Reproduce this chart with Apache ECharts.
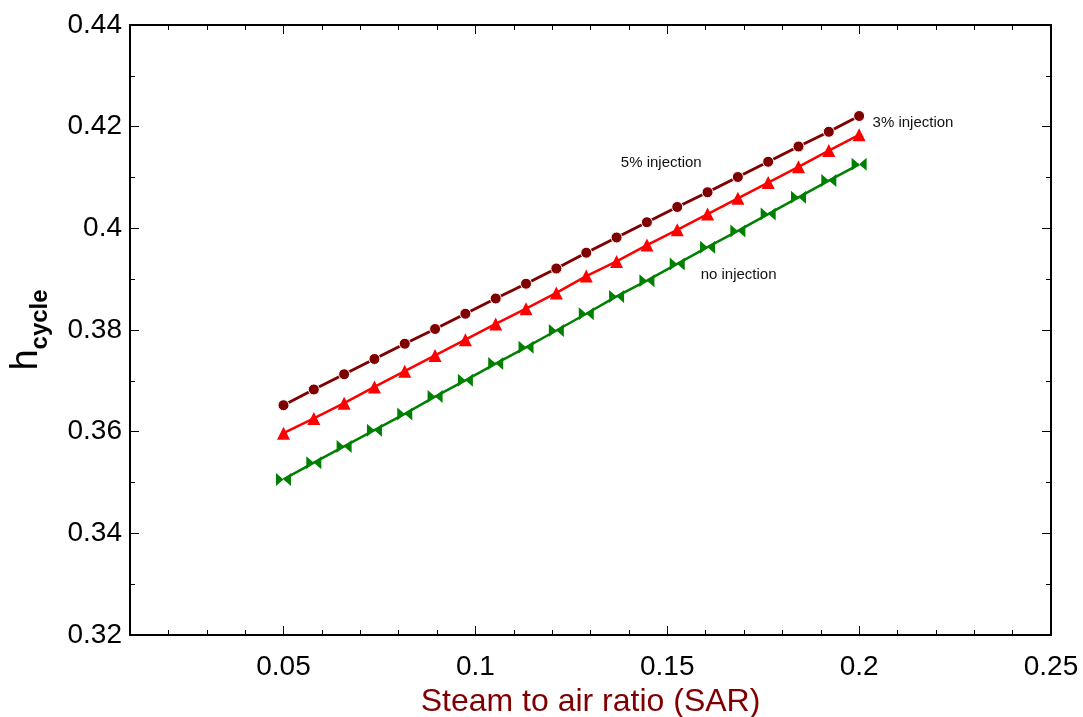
<!DOCTYPE html>
<html lang="en">
<head>
    <meta charset="UTF-8">
    <title>chart</title>
</head>
<body style="margin:0">
<div id="container" style="width:1083px;height:717px"></div>
</body>
<script type="text/javascript" src="https://cdn.jsdelivr.net/npm/echarts@6/dist/echarts.min.js"></script>
<script type="text/javascript">
    // SAR values (20 points between 0.05 and 0.2)
    var sar = [0.05, 0.0579, 0.0658, 0.0737, 0.0816, 0.0895, 0.0974, 0.1053, 0.1132, 0.1211,
        0.1289, 0.1368, 0.1447, 0.1526, 0.1605, 0.1684, 0.1763, 0.1842, 0.1921, 0.2];
    var inj3 = [0.3652, 0.3683, 0.3713, 0.3743, 0.3773, 0.3802, 0.3832, 0.3862, 0.3891, 0.3921,
        0.3952, 0.3982, 0.4012, 0.4042, 0.4071, 0.4101, 0.4131, 0.4161, 0.4190, 0.4221];
    var inj5 = [0.3597, 0.3626, 0.3656, 0.3688, 0.3719, 0.3750, 0.3781, 0.3812, 0.3842, 0.3873,
        0.3906, 0.3935, 0.3967, 0.3997, 0.4028, 0.4059, 0.4090, 0.4121, 0.4153, 0.4184];
    var noInj = [0.3506, 0.3539, 0.3571, 0.3603, 0.3635, 0.3669, 0.3701, 0.3734, 0.3766, 0.3799,
        0.3832, 0.3866, 0.3897, 0.3930, 0.3963, 0.3995, 0.4028, 0.4061, 0.4094, 0.4126];
    var xMajor = [0.05, 0.1, 0.15, 0.2];
    // annotation text and anchor (data coords)
    var notes = [
        {text: '3% injection', x: 0.2035, y: 0.4208},
        {text: '5% injection', x: 0.1379, y: 0.4129},
        {text: 'no injection', x: 0.1587, y: 0.3909}
    ];

    var font = '"Liberation Sans", Arial, sans-serif';
    var black = '#000';
    var maroon = '#800000';
    var red = '#ff0000';
    var green = '#008000';
    var bowtie = 'path://M0,0L10,6L0,12ZM20,0L10,6L20,12Z';

    function pairs(ys) {
        return sar.map(function (x, i) {
            return [x, ys[i]];
        });
    }

    function xAxisBase(pos) {
        return {
            type: 'value',
            position: pos,
            min: 0.01,
            max: 0.25,
            interval: 0.01,
            axisLine: {show: true, lineStyle: {color: black, width: 2}},
            axisTick: {show: true, inside: true, length: 5, lineStyle: {color: black, width: 1}},
            axisLabel: {show: false},
            splitLine: {show: false}
        };
    }

    function xAxisMajor(pos) {
        return {
            type: 'value',
            position: pos,
            min: 0.01,
            max: 0.25,
            interval: 0.01,
            axisLine: {show: false},
            axisTick: {show: true, inside: true, length: 9, customValues: xMajor, lineStyle: {color: black, width: 1}},
            axisLabel: {show: false},
            splitLine: {show: false}
        };
    }

    function yAxisBase(pos) {
        return {
            type: 'value',
            position: pos,
            min: 0.32,
            max: 0.44,
            interval: 0.02,
            axisLine: {show: true, lineStyle: {color: black, width: 2}},
            axisTick: {show: true, inside: true, length: 9, lineStyle: {color: black, width: 1}},
            minorTick: {show: true, splitNumber: 2, length: 5, lineStyle: {color: black, width: 1}},
            axisLabel: {show: false},
            splitLine: {show: false}
        };
    }

    var bottomX = xAxisBase('bottom');
    bottomX.axisLabel = {
        show: true,
        color: black,
        fontFamily: font,
        fontSize: 28,
        margin: 18,
        formatter: function (v) {
            var k = Math.round(v * 100);
            return k % 5 === 0 ? String(+v.toFixed(2)) : '';
        }
    };
    bottomX.name = 'Steam to air ratio (SAR)';
    bottomX.nameLocation = 'middle';
    bottomX.nameGap = 48;
    bottomX.nameTextStyle = {color: maroon, fontFamily: font, fontSize: 32};

    var leftY = yAxisBase('left');
    leftY.axisLabel = {show: true, color: black, fontFamily: font, fontSize: 28, margin: 8};
    leftY.name = '{h|h}{s|cycle}';
    leftY.nameLocation = 'middle';
    leftY.nameGap = 84;
    leftY.nameRotate = 90;
    leftY.nameTextStyle = {
        rich: {
            h: {fontFamily: font, fontSize: 38, color: black, verticalAlign: 'bottom'},
            s: {fontFamily: font, fontSize: 24, fontWeight: 'bold', color: black, verticalAlign: 'bottom', padding: [0, 0, -6, 0]}
        }
    };

    function lineSeries(name, ys, color, symbol, size, width, border) {
        return {
            type: 'line',
            name: name,
            xAxisIndex: 0,
            yAxisIndex: 0,
            data: pairs(ys),
            symbol: symbol,
            symbolSize: size,
            showAllSymbol: true,
            lineStyle: {color: color, width: width},
            itemStyle: {color: color, borderColor: '#fff', borderWidth: border},
            z: 3
        };
    }

    var dom = document.getElementById('container');
    var myChart = echarts.init(dom, null, {renderer: 'canvas'});
    myChart.setOption({
        animation: false,
        backgroundColor: '#fff',
        grid: {left: 130, right: 32, top: 25, bottom: 82, outerBoundsMode: 'none', containLabel: false},
        xAxis: [bottomX, xAxisMajor('bottom'), xAxisBase('top'), xAxisMajor('top')],
        yAxis: [leftY, yAxisBase('right')],
        series: [
            lineSeries('3% injection', inj3, maroon, 'circle', 11, 3, 1),
            lineSeries('5% injection', inj5, red, 'triangle', 13, 2.5, 0),
            lineSeries('no injection', noInj, green, bowtie, [15, 13], 2.5, 0)
        ]
    });

    var texts = notes.map(function (n) {
        var p = myChart.convertToPixel({xAxisIndex: 0, yAxisIndex: 0}, [n.x, n.y]);
        return {
            type: 'text',
            x: p[0],
            y: p[1],
            style: {
                text: n.text,
                fill: '#111',
                font: '15px ' + font,
                textAlign: 'left',
                textVerticalAlign: 'middle'
            }
        };
    });
    myChart.setOption({graphic: texts});
</script>
</html>
